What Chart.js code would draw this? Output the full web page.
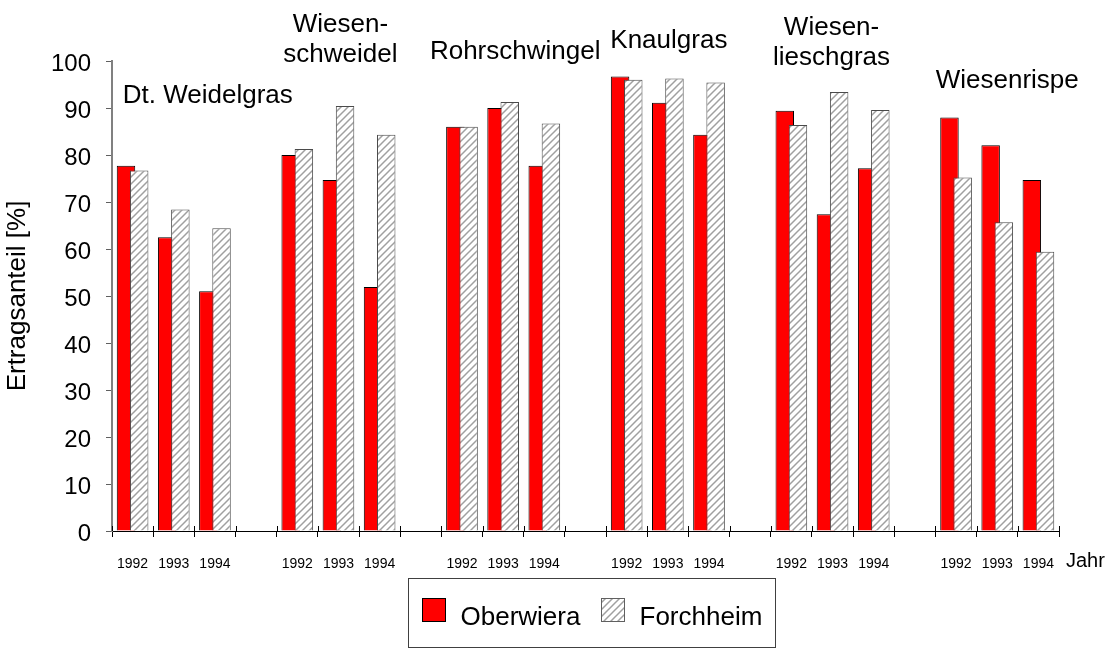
<!DOCTYPE html>
<html lang="de">
<head>
<meta charset="utf-8">
<title>Ertragsanteil</title>
<script src="https://cdn.jsdelivr.net/npm/chart.js@4.4.1/dist/chart.umd.min.js"></script>
<style>
  html, body { margin: 0; padding: 0; background: #fff; }
  #wrap { width: 1112px; height: 649px; }
</style>
</head>
<body>
<div id="wrap"><canvas id="chart" width="1112" height="649"></canvas></div>
<script>
// Grass species (group captions, split into lines as printed)
const groupLabels = [
  ['Dt. Weidelgras'],
  ['Wiesen-', 'schweidel'],
  ['Rohrschwingel'],
  ['Knaulgras'],
  ['Wiesen-', 'lieschgras'],
  ['Wiesenrispe']
];
const years = ['1992', '1993', '1994'];

// Ertragsanteil [%] per species and year (1992, 1993, 1994)
const oberwiera = [
  77.7, 62.5, 51.0,
  80.0, 74.7, 51.9,
  86.0, 90.0, 77.7,
  96.7, 91.1, 84.3,
  89.4, 67.4, 77.2,
  88.0, 82.1, 74.7
];
const forchheim = [
  76.7, 68.4, 64.4,
  81.3, 90.4, 84.3,
  86.0, 91.3, 86.7,
  96.0, 96.3, 95.4,
  86.4, 93.4, 89.6,
  75.2, 65.7, 59.4
];

const yTicks = { min: 0, max: 100, step: 10 };
const seriesNames = ['Oberwiera', 'Forchheim'];
const axisTitleX = 'Jahr';
const axisTitleY = 'Ertragsanteil [%]';

// Caption placement: horizontal shift from the group centre and baseline of the first line
const captionPlacement = [
  { dx: 34, y: 103 },
  { dx: 2,  y: 32 },
  { dx: 12, y: 59 },
  { dx: 1,  y: 48 },
  { dx: -1, y: 35 },
  { dx: 10, y: 88 }
];

// Category slots: three years per species, an empty slot between species
const labels = [];
const dataO = [];
const dataF = [];
groupLabels.forEach((g, gi) => {
  years.forEach((y, yi) => {
    labels.push(y);
    dataO.push(oberwiera[gi * years.length + yi]);
    dataF.push(forchheim[gi * years.length + yi]);
  });
  if (gi < groupLabels.length - 1) {
    labels.push('');
    dataO.push(null);
    dataF.push(null);
  }
});

const FONT = '"Liberation Sans", Arial, Helvetica, sans-serif';
Chart.defaults.font.family = FONT;
Chart.defaults.color = '#000';

function makeHatch() {
  const s = 7;
  const c = document.createElement('canvas');
  c.width = s; c.height = s;
  const g = c.getContext('2d');
  g.fillStyle = '#ffffff';
  g.fillRect(0, 0, s, s);
  g.strokeStyle = '#a0a0a0';
  g.lineWidth = 1.5;
  g.beginPath();
  g.moveTo(-1, s + 1); g.lineTo(s + 1, -1);
  g.moveTo(-1, 1); g.lineTo(1, -1);
  g.moveTo(s - 1, s + 1); g.lineTo(s + 1, s - 1);
  g.stroke();
  return g.createPattern(c, 'repeat');
}
const hatch = makeHatch();
const RED = '#ff0000';

const decorations = {
  id: 'decorations',
  // Oberwiera first, so that the Forchheim bars lie over their edges
  beforeDatasetsDraw(chart) {
    chart.getDatasetMeta(0).controller.draw();
    chart.getDatasetMeta(1).controller.draw();
    return false;
  },
  afterDraw(chart) {
    const ctx = chart.ctx;
    const xs = chart.scales.x;
    const area = chart.chartArea;
    ctx.save();

    // upper half of the category separators on the x axis
    const half = (xs.getPixelForValue(1) - xs.getPixelForValue(0)) / 2;
    ctx.strokeStyle = '#000';
    ctx.lineWidth = 1;
    ctx.beginPath();
    for (let i = 0; i <= labels.length; i++) {
      const x = Math.round(xs.getPixelForValue(i) - half) + 0.5;
      ctx.moveTo(x, area.bottom - 5);
      ctx.lineTo(x, area.bottom);
    }
    ctx.stroke();

    // species captions
    ctx.fillStyle = '#000';
    ctx.font = '26px ' + FONT;
    ctx.textAlign = 'center';
    ctx.textBaseline = 'alphabetic';
    groupLabels.forEach((lines, gi) => {
      const p = captionPlacement[gi];
      const cx = xs.getPixelForValue(gi * (years.length + 1) + 1) + p.dx;
      lines.forEach((t, li) => ctx.fillText(t, cx, p.y + li * 29.5));
    });

    // axis unit at the right end of the year labels
    ctx.font = '20px ' + FONT;
    ctx.textAlign = 'left';
    ctx.fillText(axisTitleX, area.right + 7, 567);

    // legend box
    const bx = 408.5, by = 578.5, bw = 367, bh = 69;
    ctx.fillStyle = '#fff';
    ctx.fillRect(bx, by, bw, bh);
    ctx.strokeStyle = '#404040';
    ctx.lineWidth = 1;
    ctx.strokeRect(bx, by, bw, bh);

    const sw = 23;
    const items = [
      { x: bx + 14, fill: RED, stroke: '#000' },
      { x: bx + 193, fill: hatch, stroke: '#606060' }
    ];
    ctx.font = '26px ' + FONT;
    items.forEach((it, i) => {
      ctx.fillStyle = it.fill;
      ctx.fillRect(it.x, by + 20, sw, sw);
      ctx.strokeStyle = it.stroke;
      ctx.strokeRect(it.x, by + 20, sw, sw);
      ctx.fillStyle = '#000';
      ctx.fillText(seriesNames[i], it.x + sw + 15, by + 46.5);
    });
    ctx.restore();
  }
};

new Chart(document.getElementById('chart'), {
  type: 'bar',
  data: {
    labels: labels,
    datasets: [
      {
        label: seriesNames[0],
        data: dataO,
        backgroundColor: RED,
        borderColor: '#000',
        borderWidth: 1,
        borderSkipped: 'bottom'
      },
      {
        label: seriesNames[1],
        data: dataF,
        backgroundColor: hatch,
        borderColor: '#4a4a4a',
        borderWidth: 1,
        borderSkipped: 'bottom'
      }
    ]
  },
  options: {
    responsive: false,
    animation: false,
    events: [],
    categoryPercentage: 0.641,
    barPercentage: 1.40,
    layout: { padding: { top: 61, right: 53, left: 0, bottom: 0 } },
    plugins: {
      legend: { display: false },
      tooltip: { enabled: false }
    },
    scales: {
      x: {
        offset: true,
        grid: {
          offset: true,
          drawOnChartArea: false,
          drawTicks: true,
          tickLength: 6,
          color: '#000',
          lineWidth: 1
        },
        border: { color: '#000', width: 1 },
        ticks: {
          autoSkip: false,
          maxRotation: 0,
          minRotation: 0,
          padding: 19,
          font: { size: 14 },
          color: '#000'
        },
        afterFit(scale) { scale.height = 118; }
      },
      y: {
        min: yTicks.min,
        max: yTicks.max,
        grid: {
          drawOnChartArea: false,
          drawTicks: true,
          tickLength: 6,
          color: '#606060',
          lineWidth: 1
        },
        border: { color: '#808080', width: 2 },
        ticks: {
          stepSize: yTicks.step,
          padding: 15,
          labelOffset: 3,
          font: { size: 24 },
          color: '#000'
        },
        title: {
          display: true,
          text: axisTitleY,
          font: { size: 26 },
          color: '#000',
          padding: { top: 2, bottom: 0 }
        },
        afterFit(scale) { scale.width = 112; }
      }
    }
  },
  plugins: [decorations]
});
</script>
</body>
</html>
